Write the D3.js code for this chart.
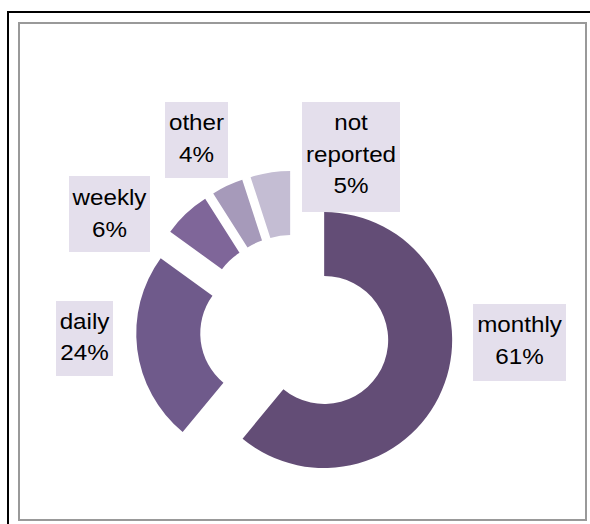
<!DOCTYPE html>
<html>
<head>
<meta charset="utf-8">
<script src="https://cdn.jsdelivr.net/npm/d3@7"></script>
<style>
  html, body { margin: 0; padding: 0; background: #fff; }
  svg { display: block; }
</style>
</head>
<body>
<svg id="chart" width="590" height="524"></svg>
<script>
// ---- data ----
const categories = ["monthly", "daily", "weekly", "other", "not reported"];
const values = [61, 24, 6, 4, 5];
const labelLines = [["monthly", "61%"], ["daily", "24%"], ["weekly", "6%"], ["other", "4%"], ["not", "reported", "5%"]];
const colors = ["#634d76", "#6f5a8b", "#7f6699", "#a69aba", "#c4bdd3"];

// ---- layout ----
const W = 590, H = 524;
const center = { x: 295, y: 329.5 };
const outerR = 128, innerR = 64, explode = 31;
const labelBoxes = [
  { x: 473, y: 304, w: 93, h: 77, cx: 519.5, base: 332 },
  { x: 56, y: 301, w: 57, h: 75, cx: 84.5, base: 328.5 },
  { x: 69, y: 176, w: 81, h: 76, cx: 109.5, base: 205 },
  { x: 165, y: 102, w: 63, h: 76, cx: 196.5, base: 130 },
  { x: 302, y: 102, w: 98, h: 110, cx: 351, base: 130 }
];
const lineStep = 31.5;

const svg = d3.select("#chart");

// frames
svg.append("rect").attr("x", 8).attr("y", 12).attr("width", 700).attr("height", 700)
  .attr("fill", "none").attr("stroke", "#000").attr("stroke-width", 2);
svg.append("rect").attr("x", 19).attr("y", 23).attr("width", 567).attr("height", 497)
  .attr("fill", "#fff").attr("stroke", "#999").attr("stroke-width", 2);

const data = categories.map((c, i) => ({ cat: c, value: values[i], i }));
const pie = d3.pie().sort(null).value(d => d.value);
const arc = d3.arc().innerRadius(innerR).outerRadius(outerR);
const arcs = pie(data);

const g = svg.append("g").attr("transform", `translate(${center.x},${center.y})`);
g.selectAll("path.slice").data(arcs).join("path")
  .attr("class", "slice")
  .attr("d", arc)
  .attr("fill", d => colors[d.data.i])
  .attr("transform", d => {
    const a = (d.startAngle + d.endAngle) / 2;
    return `translate(${Math.sin(a) * explode},${-Math.cos(a) * explode})`;
  });

// labels
const lg = svg.append("g");
labelBoxes.forEach((b, i) => {
  lg.append("rect").attr("x", b.x).attr("y", b.y).attr("width", b.w).attr("height", b.h)
    .attr("fill", "#e4dfec");
  labelLines[i].forEach((t, k) => {
    lg.append("text")
      .attr("transform", `translate(${b.cx},${b.base + k * lineStep}) scale(1.1,1)`)
      .attr("text-anchor", "middle")
      .attr("font-family", "Liberation Sans, Arial, sans-serif")
      .attr("font-size", 22)
      .attr("fill", "#000")
      .text(t);
  });
});
</script>
</body>
</html>
